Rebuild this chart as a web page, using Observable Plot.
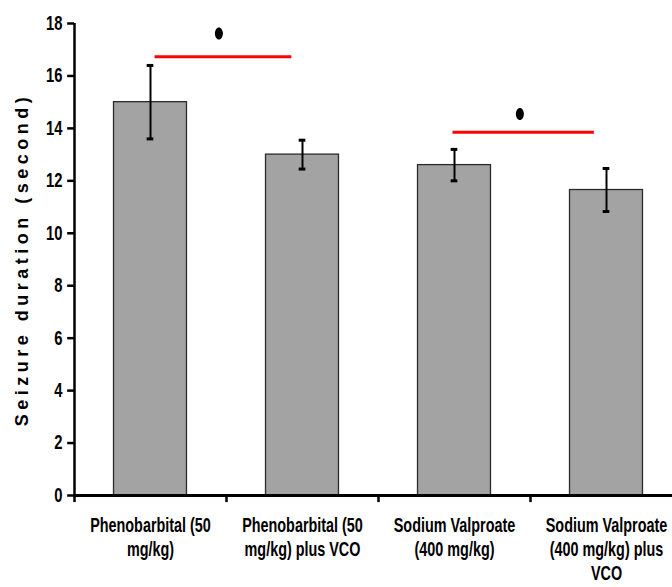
<!DOCTYPE html>
<html><head><meta charset="utf-8">
<script src="https://cdn.jsdelivr.net/npm/d3@7"></script>
<script src="https://cdn.jsdelivr.net/npm/@observablehq/plot@0.6"></script>
<style>
body{margin:0;background:#fff;}
svg{overflow:visible;}
</style>
</head><body>
<div id="chart"></div>
<script>
const categories = ["Phenobarbital (50\nmg/kg)", "Phenobarbital (50\nmg/kg) plus VCO", "Sodium Valproate\n(400 mg/kg)", "Sodium Valproate\n(400 mg/kg) plus\nVCO"];
const means = [15.0, 13.0, 12.6, 11.65];
const errors = [1.4, 0.55, 0.6, 0.82];
const yTicks = [0, 2, 4, 6, 8, 10, 12, 14, 16, 18];
const xTickPositions = [-0.5, 0.5, 1.5, 2.5];
// significance bars: start/end positions in category index units, line level, marker level
const sigStart = [0.03, 1.99];
const sigEnd = [0.93, 2.92];
const sigLine = [16.73, 13.85];
const sigMark = [17.62, 14.55];
const sigMarkX = [0.45, 2.43];

const bars = categories.map((c, i) => ({i, c, mean: means[i], err: errors[i]}));
const sigs = sigStart.map((s, k) => ({s, e: sigEnd[k], y: sigLine[k], my: sigMark[k], mx: sigMarkX[k]}));
const barHalf = 0.24, capHalf = 0.022, yTickLen = 0.045, xTickLen = 0.27;

const ellipse = {draw(ctx, size) {
  const rx = 4, ry = 6, k = 0.5523;
  ctx.moveTo(0, -ry);
  ctx.bezierCurveTo(rx*k, -ry, rx, -ry*k, rx, 0);
  ctx.bezierCurveTo(rx, ry*k, rx*k, ry, 0, ry);
  ctx.bezierCurveTo(-rx*k, ry, -rx, ry*k, -rx, 0);
  ctx.bezierCurveTo(-rx, -ry*k, -rx*k, -ry, 0, -ry);
  ctx.closePath();
}};

const font = "'Liberation Sans',Arial,sans-serif";
// emulate a narrow (condensed) typeface by horizontally scaling each text
const condense = (sx) => (I, s, v, d, c, next) => {
  const g = next(I, s, v, d, c);
  d3.select(g).selectAll("text").each(function() {
    const t = this.getAttribute("transform") || "";
    this.setAttribute("transform", t + ` scale(${sx},1)`);
  });
  return g;
};

const chart = Plot.plot({
  width: 672, height: 587,
  marginLeft: 74, marginRight: 0, marginTop: 23, marginBottom: 92,
  style: {fontFamily: font, fontWeight: "bold", fontSize: "16px", color: "#000", background: "#fff"},
  x: {type: "linear", domain: [-0.5, 3.5], range: [74, 682], axis: null},
  y: {domain: [0, 18], axis: null},
  marks: [
    Plot.rectY(bars, {x1: d => d.i - barHalf, x2: d => d.i + barHalf, y1: 0, y2: "mean", fill: "#a3a3a3", stroke: "#2a2a2a", strokeWidth: 1.3}),
    Plot.ruleX(bars, {x: "i", y1: d => d.mean - d.err, y2: d => d.mean + d.err, stroke: "#000", strokeWidth: 2}),
    Plot.ruleY(bars, {x1: d => d.i - capHalf, x2: d => d.i + capHalf, y: d => d.mean + d.err, stroke: "#000", strokeWidth: 3}),
    Plot.ruleY(bars, {x1: d => d.i - capHalf, x2: d => d.i + capHalf, y: d => d.mean - d.err, stroke: "#000", strokeWidth: 3}),
    Plot.ruleY(sigs, {x1: "s", x2: "e", y: "y", stroke: "#ff0000", strokeWidth: 3}),
    Plot.dot(sigs, {x: "mx", y: "my", symbol: ellipse, fill: "#000", stroke: "none", r: 5}),
    // axes
    Plot.ruleX([-0.5], {y1: 0, y2: 18, stroke: "#000", strokeWidth: 2.5}),
    Plot.ruleY([0], {x1: -0.5, x2: 3.5, stroke: "#000", strokeWidth: 3}),
    Plot.ruleY(yTicks, {y: d => d, x1: -0.5 - yTickLen, x2: -0.5, stroke: "#000", strokeWidth: 2.5}),
    Plot.text(yTicks, {x: -0.5, y: d => d, text: d => String(d), dx: -12, textAnchor: "end", fontSize: 20, fontWeight: "bold", render: condense(0.74)}),
    Plot.ruleX(xTickPositions, {x: d => d, y1: 0, y2: -xTickLen, stroke: "#000", strokeWidth: 2.5}),
    Plot.text(bars, {x: "i", y: 0, text: "c", dy: 19, lineAnchor: "top", lineHeight: 1.2, fontSize: 20, fontWeight: "bold", render: condense(0.72)}),
    Plot.text(["Seizure duration (second)"], {frameAnchor: "left", textAnchor: "middle", dx: -52, rotate: -90, fontSize: 18, fontWeight: "bold",
      render: (I, s, v, d, c, next) => { const g = next(I, s, v, d, c); d3.select(g).selectAll("text").style("letter-spacing", "4.5px"); return g; }})
  ]
});
document.getElementById("chart").appendChild(chart);
</script>
</body></html>
